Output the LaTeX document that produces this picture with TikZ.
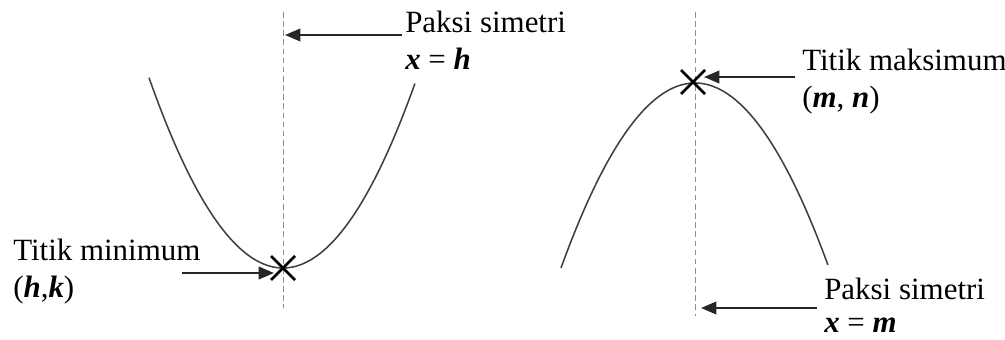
\documentclass[tikz,border=0pt]{standalone}
\usepackage{fontspec}
\setmainfont{Liberation Serif}
\usetikzlibrary{arrows.meta,calc}
\begin{document}
\begin{tikzpicture}[x=0.025cm,y=-0.025cm,
  curve/.style={draw=black!75,line width=1.1pt},
  axis/.style={draw=black!45,line width=0.5pt,dash pattern=on 4pt off 2.5pt},
  pointer/.style={draw=black!85,line width=1.5pt,-{Triangle[length=11pt,width=9pt]}},
  cross/.style={draw=black,line width=1.8pt},
  lbl/.style={anchor=base west,inner sep=0pt,font=\fontsize{22}{26}\selectfont}]
\useasboundingbox (0,0) rectangle (1005,340);
% left parabola
\draw[axis] (283,12) coordinate (la1) -- (283,308) coordinate (la2);
\draw[curve] plot[domain=-1.34:1.32,samples=80,smooth] ({283+100*\x},{268-106*\x*\x});
\coordinate (vmin) at (283,268);
\draw[cross] ($(vmin)+(-12,-12)$) -- ($(vmin)+(12,12)$) ($(vmin)+(-12,12)$) -- ($(vmin)+(12,-12)$);
\node[lbl] (ps1) at (405,33) {Paksi simetri};
\node[lbl] (xh) at (405,70) {\textbf{\textit{x}} = \textbf{\textit{h}}};
\coordinate (ps1s) at (402,35);
\coordinate (ps1e) at (285,35);
\draw[pointer] (ps1s) -- (ps1e);
\node[lbl] (tmin) at (13,261) {Titik minimum};
\node[lbl] (hk) at (13,297) {(\textbf{\textit{h}},\textbf{\textit{k}})};
\coordinate (tmins) at (182,273);
\coordinate (tmine) at (274,273);
\draw[pointer] (tmins) -- (tmine);
% right parabola
\draw[axis] (695,12) coordinate (ra1) -- (695,316) coordinate (ra2);
\draw[curve] plot[domain=-1.34:1.33,samples=80,smooth] ({695+100*\x},{83+103*\x*\x});
\coordinate (vmax) at (693,82);
\draw[cross] ($(vmax)+(-12,-12)$) -- ($(vmax)+(12,12)$) ($(vmax)+(-12,12)$) -- ($(vmax)+(12,-12)$);
\node[lbl] (tmax) at (802,71) {Titik maksimum};
\node[lbl] (mn) at (802,108) {(\textbf{\textit{m}}, \textbf{\textit{n}})};
\coordinate (tmaxs) at (795,77);
\coordinate (tmaxe) at (704,77);
\draw[pointer] (tmaxs) -- (tmaxe);
\node[lbl] (ps2) at (824,299) {Paksi simetri};
\node[lbl] (xm) at (824,332) {\textbf{\textit{x}} = \textbf{\textit{m}}};
\coordinate (ps2s) at (817,308);
\coordinate (ps2e) at (701,308);
\draw[pointer] (ps2s) -- (ps2e);
\end{tikzpicture}
\end{document}
